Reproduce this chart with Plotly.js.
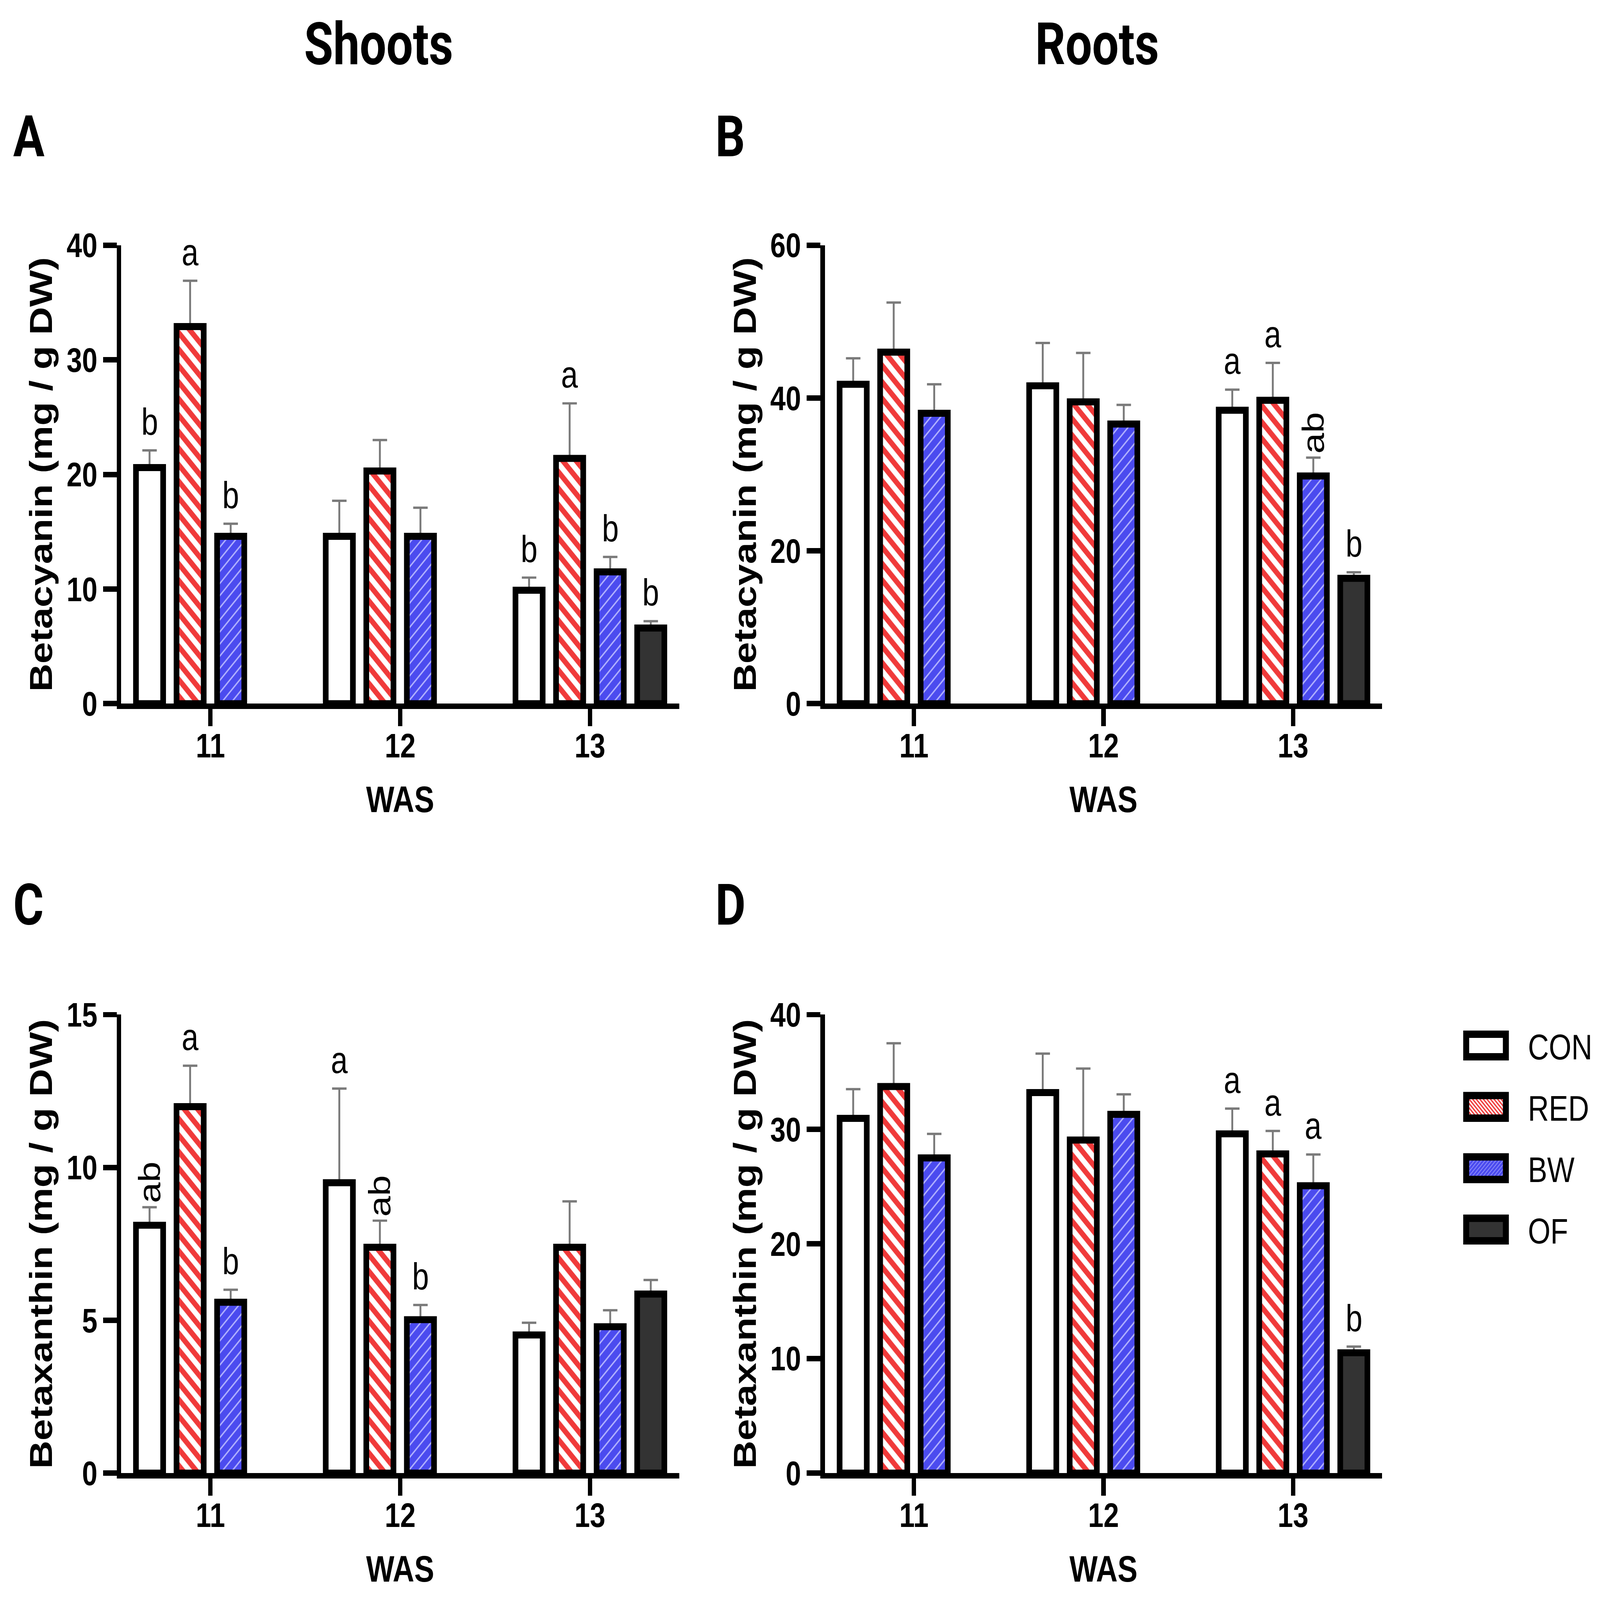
<!DOCTYPE html>
<html><head><meta charset="utf-8">
<script src="https://cdn.plot.ly/plotly-3.0.1.min.js"></script>
<style>html,body{margin:0;padding:0;background:#fff;overflow:hidden}
#wrap{position:absolute;left:0;top:0;width:5082px;height:4111px;transform-origin:0 0}</style>
</head><body>
<div id="wrap"><div id="chart" style="width:5082px;height:4111px"></div></div>
<script>
// ---------- data ----------
const weeks = [11, 12, 13];
const weekLabels = ['11', '12', '13'];
const treatments = ['CON', 'RED', 'BW', 'OF'];
const headers = ['Shoots', 'Roots'];
const panelLetters = ['A', 'B', 'C', 'D'];
const yTitles = ['Betacyanin (mg / g DW)', 'Betacyanin (mg / g DW)', 'Betaxanthin (mg / g DW)', 'Betaxanthin (mg / g DW)'];
const xTitle = 'WAS';

// rows: CON, RED, BW, OF ; columns: weeks 11, 12, 13
const shootCyaninMean = [[20.6, 14.6, 9.9], [32.9, 20.3, 21.4], [14.6, 14.6, 11.5], [null, null, 6.6]];
const shootCyaninErr  = [[1.5, 3.1, 1.1], [4.0, 2.7, 4.8], [1.1, 2.5, 1.3], [null, null, 0.6]];
const shootCyaninSig  = [['b', '', 'b'], ['a', '', 'a'], ['b', '', 'b'], ['', '', 'b']];

const rootCyaninMean = [[41.8, 41.6, 38.4], [46.0, 39.5, 39.7], [38.0, 36.6, 29.8], [null, null, 16.4]];
const rootCyaninErr  = [[3.4, 5.6, 2.7], [6.5, 6.4, 4.9], [3.8, 2.5, 2.4], [null, null, 0.8]];
const rootCyaninSig  = [['', '', 'a'], ['', '', 'a'], ['', '', 'ab'], ['', '', 'b']];

const shootXanthinMean = [[8.11, 9.5, 4.52], [11.99, 7.39, 7.39], [5.59, 5.02, 4.79], [null, null, 5.86]];
const shootXanthinErr  = [[0.59, 3.08, 0.40], [1.34, 0.87, 1.50], [0.41, 0.48, 0.54], [null, null, 0.46]];
const shootXanthinSig  = [['ab', 'a', ''], ['a', 'ab', ''], ['b', 'b', ''], ['', '', '']];

const rootXanthinMean = [[30.95, 33.2, 29.6], [33.73, 29.06, 27.85], [27.5, 31.3, 25.07], [null, null, 10.5]];
const rootXanthinErr  = [[2.55, 3.4, 2.2], [3.77, 6.24, 2.0], [2.1, 1.75, 2.73], [null, null, 0.54]];
const rootXanthinSig  = [['', '', 'a'], ['', '', 'a'], ['', '', 'a'], ['', '', 'b']];

const yMax = [40, 60, 15, 40];
const yStep = [10, 20, 5, 10];

// ---------- style ----------
const W = 5082, H = 4111;
const FONT_SANS = '"Liberation Sans", Arial, sans-serif';
const FONT_HEAD = 'Roboto, "Noto Sans", sans-serif';
const BARGAP = 0.145, BARGROUPGAP = 0.33;
const OUTLINE = 18;

const markerStyles = [
  {color: '#ffffff'},
  {color: '#ffffff', pattern: {shape: '\\', fgcolor: '#f03a3a', bgcolor: '#ffffff', size: 30, solidity: 0.5, fillmode: 'replace'}},
  {color: '#4b4bef', pattern: {shape: '/', fgcolor: '#b4b4ff', bgcolor: '#4b4bef', size: 22, solidity: 0.18, fillmode: 'replace'}},
  {color: '#333333'}
];

const panels = [
  {mean: shootCyaninMean, err: shootCyaninErr, sig: shootCyaninSig},
  {mean: rootCyaninMean, err: rootCyaninErr, sig: rootCyaninSig},
  {mean: shootXanthinMean, err: shootXanthinErr, sig: shootXanthinSig},
  {mean: rootXanthinMean, err: rootXanthinErr, sig: rootXanthinSig}
];

const xDomains = [[385 / W, 2157 / W], [2620 / W, 4390 / W]];
const yDomains = [[1 - 1808 / H, 1 - 630 / H], [1 - 3785 / H, 1 - 2607 / H]];

const data = [];
const annotations = [];
const layout = {
  width: W, height: H,
  margin: {l: 0, r: 0, t: 0, b: 0},
  paper_bgcolor: '#ffffff', plot_bgcolor: '#ffffff',
  barmode: 'group', bargap: BARGAP, bargroupgap: BARGROUPGAP,
  showlegend: true,
  legend: {
    x: 4587 / W, xanchor: 'left', y: 1 - 2620 / H, yanchor: 'top',
    font: {family: FONT_SANS, size: 92, color: '#000'},
    itemwidth: 256, tracegroupgap: 35, traceorder: 'grouped',
    bgcolor: 'rgba(0,0,0,0)', borderwidth: 0
  },
  annotations: annotations
};

const slot = (1 - BARGAP) / treatments.length;

panels.forEach((p, k) => {
  const sfx = k === 0 ? '' : String(k + 1);
  const xref = 'x' + sfx, yref = 'y' + sfx;
  const col = k % 2, row = Math.floor(k / 2);
  const axisFont = {family: FONT_SANS, size: 88, weight: 700, color: '#000'};
  layout['xaxis' + sfx] = {
    domain: xDomains[col], anchor: yref, range: [10.53, 13.47],
    tickmode: 'array', tickvals: weeks, ticktext: weekLabels,
    showline: true, linecolor: '#000', linewidth: 14,
    ticks: 'outside', ticklen: 44, tickwidth: 14, tickcolor: '#000',
    showgrid: false, zeroline: false, tickfont: axisFont, ticklabelstandoff: -25,
    title: {text: xTitle, font: {family: FONT_SANS, size: 95, weight: 700, color: '#000'}, standoff: 62}
  };
  layout['yaxis' + sfx] = {
    domain: yDomains[row], anchor: xref, range: [0, yMax[k]], dtick: yStep[k], tick0: 0,
    showline: true, linecolor: '#000', linewidth: 14,
    ticks: 'outside', ticklen: 44, tickwidth: 14, tickcolor: '#000',
    showgrid: false, zeroline: false, tickfont: axisFont,
    title: {text: yTitles[k], font: {family: FONT_SANS, size: 100, weight: 700, color: '#000'}, standoff: 18}
  };
  // error bars first (drawn underneath the bar outlines)
  treatments.forEach((t, i) => {
    data.push({
      type: 'bar', x: weeks, y: p.mean[i], xaxis: xref, yaxis: yref,
      offsetgroup: t, legendgroup: t, showlegend: false, hoverinfo: 'skip',
      marker: {color: 'rgba(0,0,0,0)', line: {width: 0}},
      error_y: {type: 'data', symmetric: false, array: p.err[i], arrayminus: [0, 0, 0],
                color: '#7a7a7a', thickness: 6, width: 23}
    });
  });
  treatments.forEach((t, i) => {
    data.push({
      type: 'bar', name: t, x: weeks, y: p.mean[i], xaxis: xref, yaxis: yref,
      offsetgroup: t, legendgroup: t, showlegend: k === 3, hoverinfo: 'skip',
      marker: Object.assign({line: {color: '#000', width: OUTLINE}}, markerStyles[i])
    });
    p.sig[i].forEach((s, j) => {
      if (!s) return;
      annotations.push({
        xref: xref, yref: yref,
        x: weeks[j] + (i - (treatments.length - 1) / 2) * slot,
        y: p.mean[i][j] + p.err[i][j],
        text: s, showarrow: false,
        textangle: s.length > 1 ? -90 : 0,
        xanchor: 'center', yanchor: 'bottom', yshift: s.length > 1 ? 8 : 18,
        font: {family: FONT_SANS, size: 96, color: '#000'}
      });
    });
  });
});

headers.forEach((h, c) => {
  annotations.push({xref: 'paper', yref: 'paper', x: [1203, 3484][c] / W, y: 1 - 115 / H,
    xanchor: 'center', yanchor: 'middle', showarrow: false, text: h,
    font: {family: FONT_HEAD, size: 150, weight: 700, color: '#000'}});
});
panelLetters.forEach((L, k) => {
  annotations.push({xref: 'paper', yref: 'paper', x: [40, 2270][k % 2] / W, y: 1 - [350, 2325][Math.floor(k / 2)] / H,
    xanchor: 'left', yanchor: 'middle', showarrow: false, text: L,
    font: {family: FONT_HEAD, size: 148, weight: 700, color: '#000'}});
});

const gd = document.getElementById('chart');
Plotly.newPlot(gd, data, layout, {staticPlot: true}).then(() => {
  gd.querySelectorAll('.legend .legendpoints path').forEach(el => {
    el.setAttribute('d', 'M63,29H-63V-29H63Z');
    el.style.strokeWidth = '19px';
  });
  // the browser window may be smaller than the requested 5082x4111 canvas: fit the chart to it
  const sx = Math.min(1, window.innerWidth / W), sy = Math.min(1, window.innerHeight / H);
  document.getElementById('wrap').style.transform = 'scale(' + sx + ',' + sy + ')';
});
</script>
</body></html>
